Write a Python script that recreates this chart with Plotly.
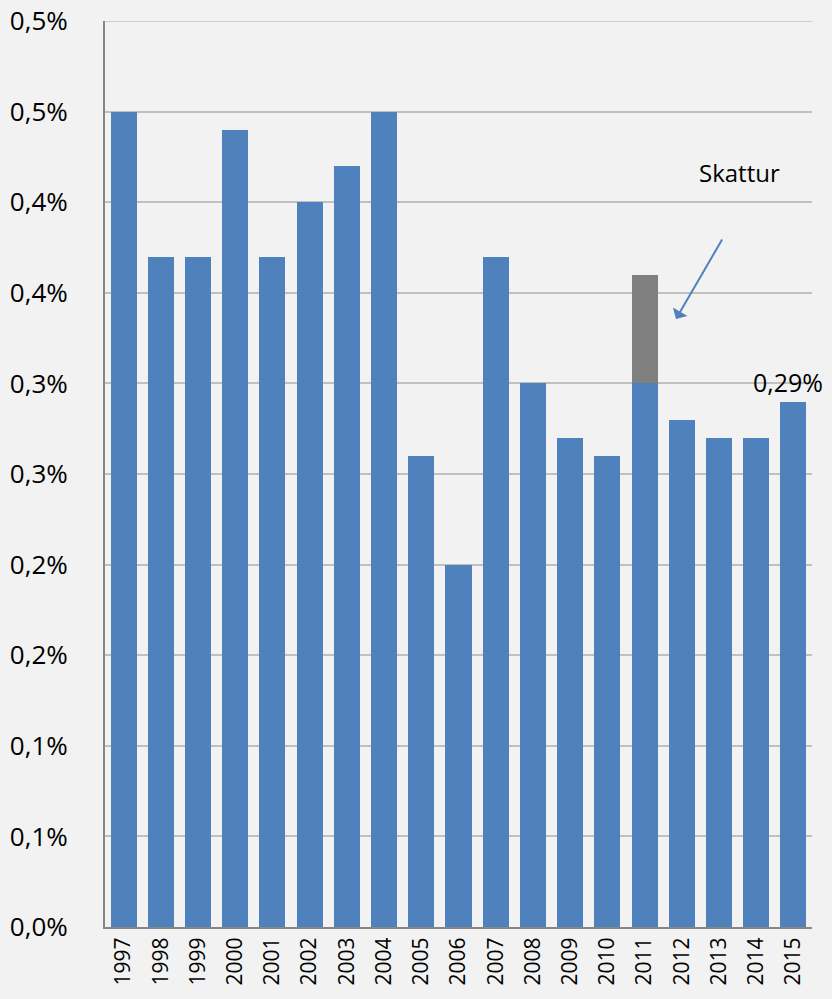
import plotly.graph_objects as go

years = [str(y) for y in range(1997, 2016)]
base_values = [0.45, 0.37, 0.37, 0.44, 0.37, 0.40, 0.42, 0.45, 0.26, 0.20,
               0.37, 0.30, 0.27, 0.26, 0.30, 0.28, 0.27, 0.27, 0.29]
tax_values = [None] * 14 + [0.06] + [None] * 4
tick_vals = [0, 0.05, 0.10, 0.15, 0.20, 0.25, 0.30, 0.35, 0.40, 0.45, 0.50]
tick_text = ["0,0%", "0,1%", "0,1%", "0,2%", "0,2%", "0,3%", "0,3%",
             "0,4%", "0,4%", "0,5%", "0,5%"]

FONT = "Open Sans"

fig = go.Figure()
fig.add_trace(go.Bar(x=years, y=base_values, marker=dict(color="#4f81bd", line=dict(width=0)),
                     showlegend=False))
fig.add_trace(go.Bar(x=years, y=tax_values, marker=dict(color="#808080", line=dict(width=0)),
                     showlegend=False))

last = len(years) - 1
fig.add_annotation(x=last, y=base_values[last], text="0,29%", showarrow=False,
                   yshift=20, xshift=-5, font=dict(family=FONT, size=25, color="#000"))
fig.add_annotation(x=0.898, y=0.833, xref="paper", yref="paper", text="Skattur",
                   xanchor="center", yanchor="middle",
                   showarrow=False, font=dict(family=FONT, size=24, color="#000"))
fig.add_annotation(x=0.8076, y=0.671, xref="paper", yref="paper", text="",
                   showarrow=True, ax=47, ay=-81, arrowhead=1, arrowsize=1.4,
                   arrowwidth=2, arrowcolor="#4f81bd")

# top gridline at the upper end of the value axis
fig.add_shape(type="line", xref="paper", x0=0, x1=1, yref="y",
              y0=tick_vals[-1], y1=tick_vals[-1],
              line=dict(color="#c0c0c0", width=1.5), layer="below")

fig.update_layout(
    width=832, height=999,
    margin=dict(l=105, r=20, t=21, b=72, autoexpand=False),
    paper_bgcolor="#f2f2f2", plot_bgcolor="#f2f2f2",
    barmode="stack", bargap=0.3,
    font=dict(family=FONT, color="#000"),
)
fig.update_xaxes(type="category", tickangle=-90, tickfont=dict(size=21),
                 showline=True, linecolor="#868686", linewidth=2, automargin=False,
                 showgrid=False, ticks="", range=[-0.5, len(years) - 0.5])
fig.update_yaxes(range=[0, 0.5], tickvals=tick_vals, ticktext=tick_text,
                 tickfont=dict(size=26), showgrid=True, gridcolor="#c0c0c0",
                 gridwidth=1.5, showline=True, linecolor="#868686", linewidth=2,
                 automargin=False,
                 zeroline=False, ticks="", ticklen=0, ticklabelstandoff=30)

fig.write_html("out.html", config={"displayModeBar": False},
               post_script="document.body.style.margin='0';")
